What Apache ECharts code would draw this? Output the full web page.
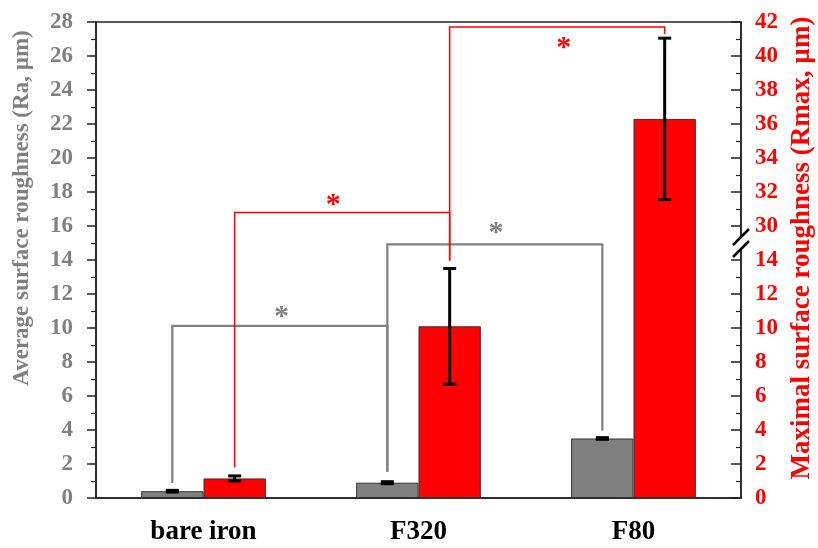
<!DOCTYPE html>
<html>
<head>
<meta charset="utf-8">
<script src="https://cdn.jsdelivr.net/npm/echarts@6/dist/echarts.min.js"></script>
<style>html,body{margin:0;padding:0;background:#fff;}#c{width:818px;height:548px;}</style>
</head>
<body>
<div id="c"></div>
<script>
// ---- data ----
const categories = ['bare iron', 'F320', 'F80'];
const raMean = [0.4, 0.9, 3.5];          // Average surface roughness (Ra, µm)
const raErr = [0.05, 0.06, 0.05];
const rmaxMean = [1.15, 10.1, 36.3];     // Maximal surface roughness (Rmax, µm)
const rmaxErr = [0.15, 3.4, 4.75];
const leftTickStep = 2;
const rightBreakLow = 14;   // right axis shows 0..14, then breaks
const rightBreakHigh = 30;  // and continues from 30..42
// significance brackets (values in the series' own units)
const brackets = [
  { series: 'ra',   from: [0, 0.88],  to: [1, 1.55],  level: 10.12, star: 11.0, starPos: 0.508 },
  { series: 'ra',   from: [1, 1.55],  to: [2, 3.96],  level: 14.92, star: 15.9, starPos: 0.506 },
  { series: 'rmax', from: [0, 1.8],   to: [1, 13.96], level: 30.8,  star: 31.6, starPos: 0.458 },
  { series: 'rmax', from: [1, 13.96], to: [2, 41.3],  level: 41.7,  star: 40.8, starPos: 0.53 }
];

// map right-axis (Rmax) values to the shared plotting scale
const shift = rightBreakHigh - rightBreakLow - leftTickStep; // 14
function rToPlot(v) { return v >= rightBreakHigh - 1e-9 ? v - shift : (v > rightBreakLow ? rightBreakLow + (v - rightBreakLow) * leftTickStep / (rightBreakHigh - rightBreakLow) : v); }
function plotToR(v) { return v > rightBreakLow ? v + shift : v; }

const GRAY = '#808080', RED = '#ff0000';
const FONT = "'Liberation Serif', 'Times New Roman', serif";
const BAR_OFF = 0.145; // half-bar offset as fraction of category band

const chart = echarts.init(document.getElementById('c'), null, { renderer: 'canvas' });

function errorItem(offsetSign, color, w) {
  return function (params, api) {
    const idx = api.value(0);
    const band = api.size([1, 0])[0];
    const lo = api.coord([idx, api.value(1)]);
    const hi = api.coord([idx, api.value(2)]);
    const x = lo[0] + offsetSign * band * BAR_OFF;
    const cap = 6.5;
    const style = { stroke: color, lineWidth: w };
    return {
      type: 'group',
      children: [
        { type: 'line', shape: { x1: x, y1: lo[1], x2: x, y2: hi[1] }, style },
        { type: 'line', shape: { x1: x - cap, y1: lo[1], x2: x + cap, y2: lo[1] }, style },
        { type: 'line', shape: { x1: x - cap, y1: hi[1], x2: x + cap, y2: hi[1] }, style }
      ]
    };
  };
}

const bracketData = brackets.map(b => {
  const f = b.series === 'rmax' ? rToPlot : (v => v);
  return [b.from[0], f(b.from[1]), b.to[0], f(b.to[1]), f(b.level), b.series === 'rmax' ? 1 : 0, f(b.star), b.starPos];
});

function bracketItem(params, api) {
  const band = api.size([1, 0])[0];
  const isR = api.value(5) === 1;
  const sign = isR ? 1 : -1;
  const p1 = api.coord([api.value(0), api.value(1)]);
  const p2 = api.coord([api.value(2), api.value(3)]);
  const lv = api.coord([api.value(0), api.value(4)])[1];
  const sy = api.coord([api.value(0), api.value(6)])[1];
  const x1 = p1[0] + sign * band * BAR_OFF;
  const x2 = p2[0] + sign * band * BAR_OFF;
  const color = isR ? RED : GRAY;
  return {
    type: 'group',
    children: [
      { type: 'polyline', shape: { points: [[x1, p1[1]], [x1, lv], [x2, lv], [x2, p2[1]]] },
        style: { stroke: color, lineWidth: isR ? 1.5 : 2.2, fill: null } },
      { type: 'text', x: x1 + (x2 - x1) * api.value(7), y: sy + 6,
        style: { text: '*', fill: color, font: 'bold 30px ' + FONT, textAlign: 'center', textVerticalAlign: 'middle' } }
    ]
  };
}

const option = {
  animation: false,
  grid: { left: 96, right: 77, top: 22, bottom: 50, outerBoundsMode: 'none', containLabel: false,
    show: true, borderColor: '#222', borderWidth: 1.5, backgroundColor: 'transparent' },
  xAxis: [{
    type: 'category', data: categories,
    axisLine: { lineStyle: { color: '#222', width: 1.5 } },
    axisTick: { show: false },
    axisLabel: { color: '#000', fontFamily: FONT, fontWeight: 'bold', fontSize: 27, margin: 21 }
  }],
  yAxis: [{
    type: 'value', min: 0, max: 28, interval: leftTickStep, position: 'left',
    axisLine: { show: true, lineStyle: { color: '#222', width: 1.5 } },
    axisTick: { show: true, inside: false, length: 9, lineStyle: { color: '#222', width: 1.5 } },
    minorTick: { show: true, splitNumber: 2, length: 5, lineStyle: { color: '#222', width: 1.2 } },
    splitLine: { show: false },
    axisLabel: { color: GRAY, fontFamily: FONT, fontWeight: 'bold', fontSize: 23, margin: 23 },
    name: 'Average surface roughness (Ra, µm)', nameLocation: 'middle', nameRotate: 90, nameGap: 62,
    nameTextStyle: { color: GRAY, fontFamily: FONT, fontWeight: 'bold', fontSize: 23, padding: [0, 0, 0, 104] }
  }, {
    type: 'value', min: 0, max: 28, interval: leftTickStep, position: 'right',
    axisLine: { show: true, lineStyle: { color: '#222', width: 1.5 } },
    axisTick: { show: true, inside: true, length: 10, lineStyle: { color: '#222', width: 1.5 } },
    minorTick: { show: true, splitNumber: 2, length: 5, lineStyle: { color: '#222', width: 1.2 } },
    splitLine: { show: false },
    axisLabel: { color: RED, fontFamily: FONT, fontWeight: 'bold', fontSize: 23, margin: 14, formatter: v => String(plotToR(v)) },
    name: 'Maximal surface roughness (Rmax, µm)', nameLocation: 'middle', nameRotate: 90, nameGap: 48,
    nameTextStyle: { color: RED, fontFamily: FONT, fontWeight: 'bold', fontSize: 27, padding: [0, 0, 0, 24] }
  }],
  series: [
    { type: 'bar', name: 'Ra', data: raMean, yAxisIndex: 0, barGap: '0%', barCategoryGap: '42%',
      itemStyle: { color: GRAY, borderColor: '#333', borderWidth: 1 }, z: 2 },
    { type: 'bar', name: 'Rmax', data: rmaxMean.map(rToPlot), yAxisIndex: 0, barGap: '0%', barCategoryGap: '42%',
      itemStyle: { color: RED, borderColor: '#333', borderWidth: 1 }, z: 2 },
    { type: 'custom', name: 'bracket', yAxisIndex: 0, renderItem: bracketItem, data: bracketData,
      encode: { x: 0, y: 4 }, z: 3 },
    { type: 'custom', name: 'Ra err', yAxisIndex: 0, renderItem: errorItem(-1, '#000', 3),
      data: raMean.map((m, i) => [i, m - raErr[i], m + raErr[i]]), encode: { x: 0, y: [1, 2] }, z: 4 },
    { type: 'custom', name: 'Rmax err', yAxisIndex: 0, renderItem: errorItem(1, '#000', 3),
      data: rmaxMean.map((m, i) => [i, rToPlot(m - rmaxErr[i]), rToPlot(m + rmaxErr[i])]), encode: { x: 0, y: [1, 2] }, z: 4 }
  ]
};
chart.setOption(option);

// axis break marker on the right axis between 14 and 30
(function () {
  const c2 = chart.convertToPixel({ xAxisIndex: 0 }, categories[2]);
  const c1 = chart.convertToPixel({ xAxisIndex: 0 }, categories[1]);
  const xr = c2 + (c2 - c1) / 2;
  const ym = chart.convertToPixel({ yAxisIndex: 1 }, rightBreakLow + leftTickStep / 2);
  const gap = 6, dx = 8, dy = 8;
  chart.setOption({
    graphic: [
      { type: 'polygon', z: 100, shape: { points: [[xr - dx, ym - gap + dy], [xr + dx, ym - gap - dy], [xr + dx, ym + gap - dy], [xr - dx, ym + gap + dy]] }, style: { fill: '#fff' } },
      { type: 'line', z: 101, shape: { x1: xr - dx, y1: ym - gap + dy, x2: xr + dx, y2: ym - gap - dy }, style: { stroke: '#000', lineWidth: 2.5 } },
      { type: 'line', z: 101, shape: { x1: xr - dx, y1: ym + gap + dy, x2: xr + dx, y2: ym + gap - dy }, style: { stroke: '#000', lineWidth: 2.5 } }
    ]
  });
})();
</script>
</body>
</html>
